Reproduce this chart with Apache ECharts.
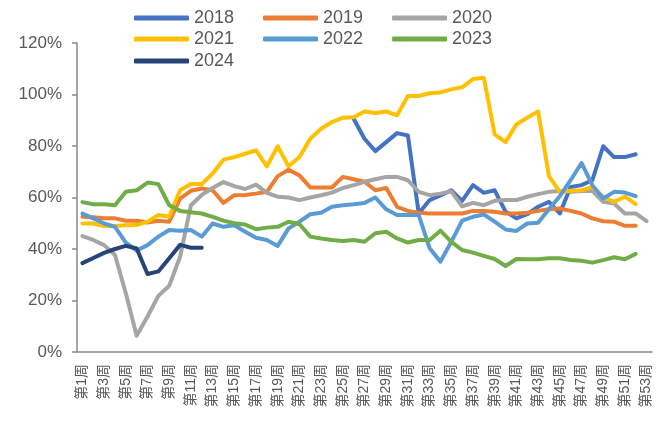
<!DOCTYPE html>
<html>
<head>
<meta charset="utf-8">
<script src="https://cdn.jsdelivr.net/npm/echarts@6/dist/echarts.min.js"></script>
<style>
  html, body { margin: 0; padding: 0; background: #fff; }
  #chart { width: 670px; height: 423px; }
</style>
</head>
<body>
<div id="chart"></div>
<script>
// weeks 1..53
const weeks = [];
for (let i = 1; i <= 53; i++) weeks.push('第' + i + '周');

const _ = null;
const s2018 = [_, _, _, _, _, _, _, _, _, _, _, _, _, _, _, _, _, _, _, _, _, _, _, _, _,
  90.6, 82.8, 78, 81.5, 85, 84.1, 53.8, 59, 60.8, 62.8, 58.7, 64.8, 61.8, 62.8, 54.5,
  51.9, 53.5, 56.4, 58.3, 53.8, 64.1, 64.8, 66.7, 79.9, 75.7, 75.7, 76.8];
const s2019 = [52.5, 52.3, 51.9, 51.9, 51, 51, 50.3, 51, 50.6, 59.6, 62.6, 63.5, 62.8, 57.9, 60.9,
  61, 61.5, 62.2, 68.3, 70.8, 68.6, 63.9, 63.9, 63.9, 68, 67.1, 66.1, 62.8, 63.7, 56.4,
  54.8, 54.1, 53.8, 53.8, 53.8, 53.8, 54.8, 54.8, 54.5, 53.8, 53.8, 54.1, 54.8, 55.4, 55.7,
  54.8, 53.8, 51.9, 50.8, 50.6, 49, 49];
const s2020 = [45, 43.5, 41.5, 37.7, 22.8, 6.3, 13.8, 21.8, 25.7, 37, 57, 61, 63.7, 66, 64.4,
  63.3, 65, 61.8, 60.3, 60, 59, 60, 60.9, 61.9, 63.7, 64.8, 66.1, 67.1, 68, 68, 66.7,
  62.2, 60.9, 61.5, 62.4, 56.6, 57.9, 57, 58.7, 59, 59, 60.3, 61.3, 62.2, 62.5, 62.2, 62.5,
  62.6, 58.3, 57.7, 53.8, 53.8, 50.8];
const s2021 = [49.9, 49.9, 48.9, 48.9, 49.2, 49.3, 50.6, 53.2, 52.5, 62.8, 65.2, 65.2, 69.3, 74.7, 75.7,
  77, 78.3, 72.1, 79.9, 72.1, 75.7, 82.8, 86.7, 89.3, 91, 91.2, 93.4, 92.8, 93.4, 91.9,
  99.4, 99.4, 100.5, 100.8, 102, 102.8, 106, 106.5, 84.5, 81.5, 88.4, 91, 93.4, 68.3, 62.2,
  62.6, 62.8, 64.1, 60.3, 58.3, 60.3, 57.4];
const s2022 = [53.8, 51.9, 49.9, 48.6, 42.5, 39.4, 41.5, 44.8, 47.4, 47.1, 47.4, 44.8, 49.9, 48.6, 49.2,
  46.7, 44.4, 43.5, 41.2, 48, 50.6, 53.5, 54.1, 56.4, 57, 57.4, 57.9, 60, 55.4, 53.2,
  53.2, 53.2, 40.3, 35.1, 42.8, 51, 52.5, 53.4, 50.6, 47.6, 47, 49.9, 50.2, 55.4, 60.5,
  66.7, 73.4, 64.8, 59.6, 62.2, 61.9, 60.5];
const s2023 = [58.2, 57.4, 57.4, 57, 62.2, 62.8, 65.8, 65.2, 57, 54.8, 54.3, 53.8, 52.5, 51, 50,
  49.5, 47.7, 48.3, 48.6, 50.6, 49.7, 44.8, 44.1, 43.5, 43.1, 43.5, 42.8, 46.1, 46.7, 44.1,
  42.5, 43.5, 43.5, 47.1, 42.8, 39.6, 38.6, 37.3, 36.1, 33.4, 36.1, 36, 36, 36.4, 36.4,
  35.7, 35.4, 34.7, 35.7, 36.8, 36, 38.1];
const s2024 = [34.5, 36.5, 38.5, 40, 41.2, 40.2, 30.3, 31.3, 36.4, 41.6, 40.5, 40.5];

const years = ['2018', '2019', '2020', '2021', '2022', '2023', '2024'];
const seriesData = [s2018, s2019, s2020, s2021, s2022, s2023, s2024];
const colors = ['#4472C4', '#ED7D31', '#A5A5A5', '#FFC000', '#5B9BD5', '#70AD47', '#264478'];
const yTicks = [0, 20, 40, 60, 80, 100, 120];

const font = '"Liberation Sans", Arial, "Noto Sans CJK SC", sans-serif';
const chart = echarts.init(document.getElementById('chart'), null, {renderer: 'canvas'});

// legend is 3 columns wide, one component per row
const legendRow = (names, top) => ({
  data: names,
  top: top,
  left: 129,
  itemWidth: 55,
  itemHeight: 5,
  itemGap: 29,
  icon: 'roundRect',
  textStyle: {color: '#595959', fontSize: 18, fontFamily: font}
});

chart.setOption({
  animation: false,
  color: colors,
  legend: [
    legendRow(years.slice(0, 3), 4),
    legendRow(years.slice(3, 6), 25),
    legendRow(years.slice(6), 47)
  ],
  grid: {left: 77, right: 18, top: 43, bottom: 71},
  xAxis: {
    type: 'category',
    data: weeks,
    boundaryGap: true,
    axisLine: {lineStyle: {color: '#898989', width: 1.5}},
    axisTick: {show: false},
    axisLabel: {
      interval: 1,
      rotate: 90,
      color: '#595959',
      fontSize: 14,
      fontFamily: font,
      margin: 12
    }
  },
  yAxis: {
    type: 'value',
    min: yTicks[0],
    max: yTicks[yTicks.length - 1],
    interval: 20,
    splitLine: {show: false},
    axisLine: {show: true, lineStyle: {color: '#898989', width: 1.5}},
    axisTick: {show: true, length: 5, lineStyle: {color: '#898989', width: 1.5}},
    axisLabel: {
      formatter: '{value}%',
      color: '#595959',
      fontSize: 17,
      fontFamily: font,
      margin: 15
    }
  },
  series: years.map((y, i) => ({
    name: y,
    type: 'line',
    data: seriesData[i],
    symbol: 'none',
    connectNulls: false,
    lineStyle: {width: 4, color: colors[i], cap: 'round', join: 'round'},
    itemStyle: {color: colors[i]}
  }))
});
</script>
</body>
</html>
